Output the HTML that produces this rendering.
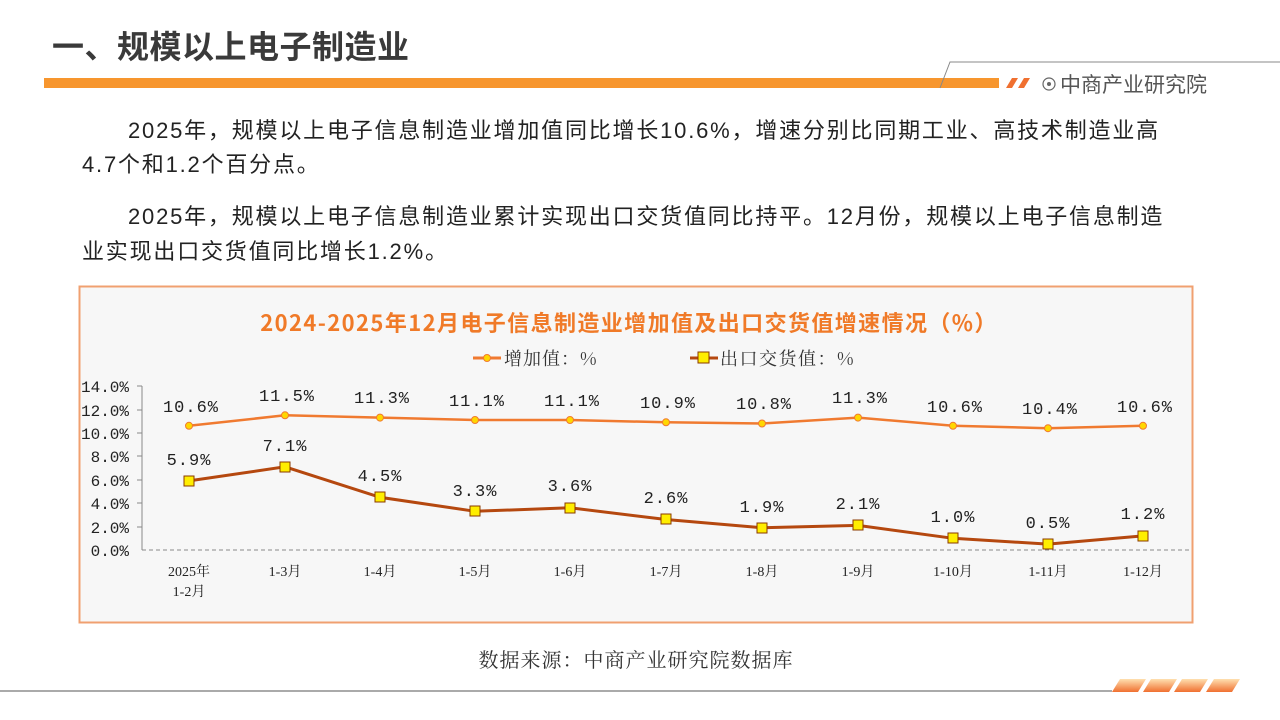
<!DOCTYPE html>
<html><head><meta charset="utf-8"><style>
body{margin:0;width:1280px;height:720px;background:#fff;overflow:hidden;font-family:"Liberation Sans","Noto Sans CJK SC",sans-serif;}
</style></head><body>
<svg width="1280" height="720" xmlns="http://www.w3.org/2000/svg" style="position:absolute;left:0;top:0">
<defs><linearGradient id="g" x1="0" y1="0" x2="0" y2="1"><stop offset="0" stop-color="#ffe0b0"/><stop offset="1" stop-color="#f07030"/></linearGradient></defs>
<text x="52" y="58" font-family="Noto Sans CJK SC,sans-serif" font-weight="bold" font-size="32" letter-spacing="0.5" fill="#3a3a3a">一、规模以上电子制造业</text>
<rect x="44" y="78" width="955" height="10" fill="#f7962e"/>
<polyline points="940,88 950,62 1280,62" fill="none" stroke="#888" stroke-width="1"/>
<polygon points="1006,88 1012,78 1018,78 1012,88" fill="#f07030"/>
<polygon points="1018,88 1024,78 1030,78 1024,88" fill="#f07030"/>
<circle cx="1049" cy="84" r="6" fill="none" stroke="#666" stroke-width="1.2"/><circle cx="1049" cy="84" r="2" fill="#666"/>
<text x="1060" y="92" font-family="Noto Sans CJK SC,sans-serif" font-size="21" fill="#555">中商产业研究院</text>
<g font-family="Liberation Sans,Noto Sans CJK SC,sans-serif" font-size="22" letter-spacing="1.8" fill="#222">
<text x="128" y="138">2025年，规模以上电子信息制造业增加值同比增长10.6%，增速分别比同期工业、高技术制造业高</text>
<text x="82" y="172">4.7个和1.2个百分点。</text>
<text x="128" y="224">2025年，规模以上电子信息制造业累计实现出口交货值同比持平。12月份，规模以上电子信息制造</text>
<text x="82" y="259">业实现出口交货值同比增长1.2%。</text>
</g>
<rect x="79.5" y="286.5" width="1113" height="336" fill="#f7f7f7" stroke="#f0a070" stroke-width="2"/>
<text x="629" y="331" text-anchor="middle" font-family="Noto Sans CJK SC,sans-serif" font-weight="bold" font-size="22" letter-spacing="1.4" fill="#f07a28">2024-2025年12月电子信息制造业增加值及出口交货值增速情况（%）</text>
<g font-family="Noto Serif CJK SC,serif" font-size="18" fill="#333">
<line x1="473" y1="358" x2="501" y2="358" stroke="#f07a30" stroke-width="3"/><circle cx="487" cy="358" r="3.5" fill="#ffd700" stroke="#f07a30"/>
<text x="504" y="365" letter-spacing="1">增加值：%</text>
<line x1="690" y1="358" x2="718" y2="358" stroke="#b5480f" stroke-width="3"/><rect x="698" y="352" width="11" height="11" fill="#ffee00" stroke="#8a3a00"/>
<text x="720" y="365" letter-spacing="1.5">出口交货值：%</text>
</g>
<line x1="142" y1="386" x2="142" y2="550" stroke="#888"/>
<line x1="142" y1="550" x2="1190" y2="550" stroke="#888" stroke-dasharray="4,3"/>
<g font-family="Liberation Mono,monospace" font-size="16" fill="#222" text-anchor="end">
<text x="129" y="392">14.0%</text><text x="129" y="416">12.0%</text><text x="129" y="439">10.0%</text><text x="129" y="462">8.0%</text><text x="129" y="486">6.0%</text><text x="129" y="509">4.0%</text><text x="129" y="533">2.0%</text><text x="129" y="556">0.0%</text>
</g>
<g stroke="#888"><line x1="137" y1="386" x2="142" y2="386"/><line x1="137" y1="410" x2="142" y2="410"/><line x1="137" y1="433" x2="142" y2="433"/><line x1="137" y1="456" x2="142" y2="456"/><line x1="137" y1="480" x2="142" y2="480"/><line x1="137" y1="503" x2="142" y2="503"/><line x1="137" y1="527" x2="142" y2="527"/></g>
<polyline points="189,425.8 285,415.3 380,417.6 475,420 570,420 666,422.3 762,423.5 858,417.6 953,425.8 1048,428.2 1143,425.8" fill="none" stroke="#f07a30" stroke-width="2.5"/>
<g fill="#ffd700" stroke="#f07a30"><circle cx="189" cy="425.8" r="3.5"/><circle cx="285" cy="415.3" r="3.5"/><circle cx="380" cy="417.6" r="3.5"/><circle cx="475" cy="420" r="3.5"/><circle cx="570" cy="420" r="3.5"/><circle cx="666" cy="422.3" r="3.5"/><circle cx="762" cy="423.5" r="3.5"/><circle cx="858" cy="417.6" r="3.5"/><circle cx="953" cy="425.8" r="3.5"/><circle cx="1048" cy="428.2" r="3.5"/><circle cx="1143" cy="425.8" r="3.5"/></g>
<polyline points="189,480.9 285,466.8 380,497.3 475,511.3 570,507.8 666,519.5 762,527.7 858,525.4 953,538.3 1048,544.1 1143,535.9" fill="none" stroke="#b5480f" stroke-width="3"/>
<g fill="#ffee00" stroke="#8a3a00"><rect x="184" y="476" width="10" height="10"/><rect x="280" y="462" width="10" height="10"/><rect x="375" y="492" width="10" height="10"/><rect x="470" y="506" width="10" height="10"/><rect x="565" y="503" width="10" height="10"/><rect x="661" y="514" width="10" height="10"/><rect x="757" y="523" width="10" height="10"/><rect x="853" y="520" width="10" height="10"/><rect x="948" y="533" width="10" height="10"/><rect x="1043" y="539" width="10" height="10"/><rect x="1138" y="531" width="10" height="10"/></g>
<g font-family="Liberation Mono,monospace" font-size="17" fill="#222" text-anchor="middle" letter-spacing="1">
<text x="191" y="412">10.6%</text><text x="287" y="401">11.5%</text><text x="382" y="403">11.3%</text><text x="477" y="406">11.1%</text><text x="572" y="406">11.1%</text><text x="668" y="408">10.9%</text><text x="764" y="409">10.8%</text><text x="860" y="403">11.3%</text><text x="955" y="412">10.6%</text><text x="1050" y="414">10.4%</text><text x="1145" y="412">10.6%</text>
<text x="189" y="465">5.9%</text><text x="285" y="451">7.1%</text><text x="380" y="481">4.5%</text><text x="475" y="496">3.3%</text><text x="570" y="491">3.6%</text><text x="666" y="503">2.6%</text><text x="762" y="512">1.9%</text><text x="858" y="509">2.1%</text><text x="953" y="522">1.0%</text><text x="1048" y="528">0.5%</text><text x="1143" y="519">1.2%</text>
</g>
<g font-family="Liberation Serif,Noto Serif CJK SC,serif" font-size="14" fill="#222" text-anchor="middle">
<text x="189" y="576">2025年</text><text x="189" y="596">1-2月</text>
<text x="285" y="576">1-3月</text><text x="380" y="576">1-4月</text><text x="475" y="576">1-5月</text><text x="570" y="576">1-6月</text><text x="666" y="576">1-7月</text><text x="762" y="576">1-8月</text><text x="858" y="576">1-9月</text><text x="953" y="576">1-10月</text><text x="1048" y="576">1-11月</text><text x="1143" y="576">1-12月</text>
</g>
<text x="636" y="667" text-anchor="middle" font-family="Noto Serif CJK SC,serif" font-size="20" letter-spacing="1" fill="#333">数据来源：中商产业研究院数据库</text>
<line x1="0" y1="691" x2="1112" y2="691" stroke="#777" stroke-width="1.2"/>
<g fill="url(#g)"><polygon points="1112,692 1120,679 1146,679 1138,692"/><polygon points="1143,692 1151,679 1177,679 1169,692"/><polygon points="1174,692 1182,679 1208,679 1200,692"/><polygon points="1206,692 1214,679 1240,679 1232,692"/></g>
</svg>
</body></html>
